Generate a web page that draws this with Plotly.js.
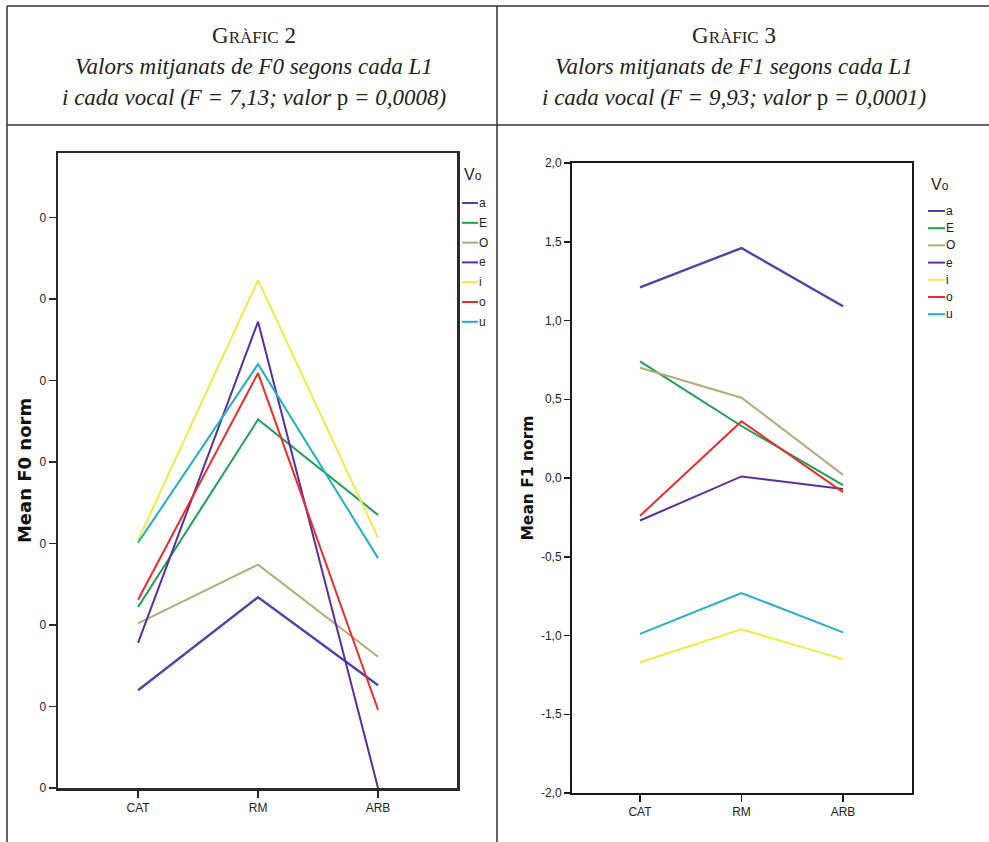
<!DOCTYPE html>
<html>
<head>
<meta charset="utf-8">
<script src="https://cdn.plot.ly/plotly-3.0.1.min.js"></script>
<style>html,body{margin:0;padding:0;background:#fff;}#chart{width:989px;height:842px;}</style>
</head>
<body>
<div id="chart"></div>
<script>
// ---- data ----
const categories = ["CAT", "RM", "ARB"];
const vowels = ["a", "E", "O", "e", "i", "o", "u"];
const vowelColors = ["#4747ab", "#1e9f52", "#b4ab7a", "#5a2e9e", "#f1ea45", "#ee2b2b", "#22afca"];

// Gràfic 2: Mean F0 norm (in units of the unlabeled tick steps)
const f0_a = [1.20, 2.34, 1.26];
const f0_E = [2.22, 4.52, 3.35];
const f0_O = [2.02, 2.74, 1.61];
const f0_e = [1.78, 5.72, 0.00];
const f0_i = [3.04, 6.23, 3.07];
const f0_o = [2.31, 5.09, 0.96];
const f0_u = [3.01, 5.20, 2.82];
const f0TickVals = [0, 1, 2, 3, 4, 5, 6, 7];
const f0TickText = ["0", "0", "0", "0", "0", "0", "0", "0"];

// Gràfic 3: Mean F1 norm
const f1_a = [1.21, 1.46, 1.09];
const f1_E = [0.74, 0.33, -0.045];
const f1_O = [0.70, 0.51, 0.02];
const f1_e = [-0.27, 0.01, -0.07];
const f1_i = [-1.17, -0.96, -1.15];
const f1_o = [-0.24, 0.36, -0.09];
const f1_u = [-0.99, -0.73, -0.98];
const f1TickVals = [-2, -1.5, -1, -0.5, 0, 0.5, 1, 1.5, 2];
const f1TickText = ["-2,0", "-1,5", "-1,0", "-0,5", "0,0", "0,5", "1,0", "1,5", "2,0"];

const f0Series = [f0_a, f0_E, f0_O, f0_e, f0_i, f0_o, f0_u];
const f1Series = [f1_a, f1_E, f1_O, f1_e, f1_i, f1_o, f1_u];

// ---- layout helpers ----
const W = 989, H = 842;
const px = x => x / W;
const py = y => 1 - y / H;

const traces = [];
vowels.forEach((v, k) => {
  traces.push({x: categories, y: f0Series[k], type: "scatter", mode: "lines", name: v,
    xaxis: "x", yaxis: "y", line: {color: vowelColors[k], width: k === 0 ? 2.4 : 2}, showlegend: false});
});
vowels.forEach((v, k) => {
  traces.push({x: categories, y: f1Series[k], type: "scatter", mode: "lines", name: v,
    xaxis: "x2", yaxis: "y2", line: {color: vowelColors[k], width: k === 0 ? 2.4 : 2}, showlegend: false});
});

const tickFont = {family: "Liberation Sans Narrow, Liberation Sans, Arial", size: 12, color: "#222"};
const titleFont = {family: "DejaVu Sans, Liberation Sans", size: 18, color: "#111", weight: "bold"};

const shapes = [];
const annotations = [];
const lineCol = "#333";
// table lines
shapes.push({type: "line", xref: "paper", yref: "paper", x0: px(7), x1: 1, y0: py(6), y1: py(6), line: {color: lineCol, width: 1.5}});
shapes.push({type: "line", xref: "paper", yref: "paper", x0: px(7), x1: 1, y0: py(125), y1: py(125), line: {color: lineCol, width: 1.5}});
shapes.push({type: "line", xref: "paper", yref: "paper", x0: px(7), x1: px(7), y0: py(6), y1: 0, line: {color: lineCol, width: 1.5}});
shapes.push({type: "line", xref: "paper", yref: "paper", x0: px(497), x1: px(497), y0: py(6), y1: 0, line: {color: lineCol, width: 1.5}});

// headers
const serif = "Liberation Serif, DejaVu Serif, serif";
function header(cx, num, line2, line3) {
  annotations.push({xref: "paper", yref: "paper", x: px(cx), y: py(35), xanchor: "center", yanchor: "middle", showarrow: false,
    text: "G<span style='font-size:17px'>RÀFIC</span> " + num, font: {family: serif, size: 23, color: "#222"}});
  annotations.push({xref: "paper", yref: "paper", x: px(cx), y: py(66), xanchor: "center", yanchor: "middle", showarrow: false,
    text: "<i>" + line2 + "</i>", font: {family: serif, size: 23, color: "#222"}});
  annotations.push({xref: "paper", yref: "paper", x: px(cx), y: py(97), xanchor: "center", yanchor: "middle", showarrow: false,
    text: line3, font: {family: serif, size: 23, color: "#222"}});
}
header(254, "2", "Valors mitjanats de F0 segons cada L1", "<i>i cada vocal (F = 7,13; valor </i>p<i> = 0,0008)</i>");
header(734, "3", "Valors mitjanats de F1 segons cada L1", "<i>i cada vocal (F = 9,93; valor </i>p<i> = 0,0001)</i>");

// manual legends (Vo)
function legend(titleX, titleY, lineX0, lineX1, textX, y0, step) {
  annotations.push({xref: "paper", yref: "paper", x: px(titleX), y: py(titleY), xanchor: "center", yanchor: "middle", showarrow: false,
    text: "V<span style='font-size:12px'>o</span>", font: {family: "Liberation Sans Narrow, Liberation Sans", size: 16, color: "#222"}});
  vowels.forEach((v, k) => {
    const yy = y0 + k * step;
    shapes.push({type: "line", xref: "paper", yref: "paper", x0: px(lineX0), x1: px(lineX1), y0: py(yy), y1: py(yy),
      line: {color: vowelColors[k], width: 2}});
    annotations.push({xref: "paper", yref: "paper", x: px(textX), y: py(yy), xanchor: "left", yanchor: "middle", showarrow: false,
      text: v, font: tickFont});
  });
}
legend(473, 174, 462, 478, 477, 203, 19.8);
legend(940, 185, 928, 945, 944, 211, 17.2);

const layout = {
  width: W, height: H,
  margin: {l: 0, r: 0, t: 0, b: 0},
  paper_bgcolor: "#fff", plot_bgcolor: "#fff",
  showlegend: false,
  xaxis: {domain: [px(58), px(457)], type: "category", range: [-0.667, 2.658], showgrid: false, zeroline: false,
    showline: true, mirror: true, linecolor: "#2a2a2a", linewidth: 2.5, ticks: "outside", ticklen: 7, tickwidth: 1.5, tickcolor: "#2a2a2a",
    tickfont: tickFont, anchor: "y"},
  yaxis: {domain: [py(788), py(153)], range: [0, 7.79], showgrid: false, zeroline: false,
    showline: true, mirror: true, linecolor: "#2a2a2a", linewidth: 2.5, ticks: "outside", ticklen: 7, tickwidth: 1.5, tickcolor: "#2a2a2a",
    tickvals: f0TickVals, ticktext: f0TickText, tickfont: tickFont, anchor: "x",
    title: {text: "Mean F0 norm", font: titleFont, standoff: 3}},
  xaxis2: {domain: [px(572), px(912)], type: "category", range: [-0.67, 2.68], showgrid: false, zeroline: false,
    showline: true, mirror: true, linecolor: "#1a1a1a", linewidth: 2, ticks: "outside", ticklen: 7, tickwidth: 1.5, tickcolor: "#1a1a1a",
    tickfont: tickFont, anchor: "y2"},
  yaxis2: {domain: [py(793), py(163)], range: [-2, 2], showgrid: false, zeroline: false,
    showline: true, mirror: true, linecolor: "#1a1a1a", linewidth: 2, ticks: "outside", ticklen: 6, tickwidth: 1.5, tickcolor: "#1a1a1a",
    tickvals: f1TickVals, ticktext: f1TickText, tickfont: tickFont, anchor: "x2",
    title: {text: "Mean F1 norm", font: Object.assign({}, titleFont, {size: 15.5}), standoff: 3}},
  shapes: shapes,
  annotations: annotations
};

Plotly.newPlot("chart", traces, layout, {staticPlot: true, displayModeBar: false});
</script>
</body>
</html>
